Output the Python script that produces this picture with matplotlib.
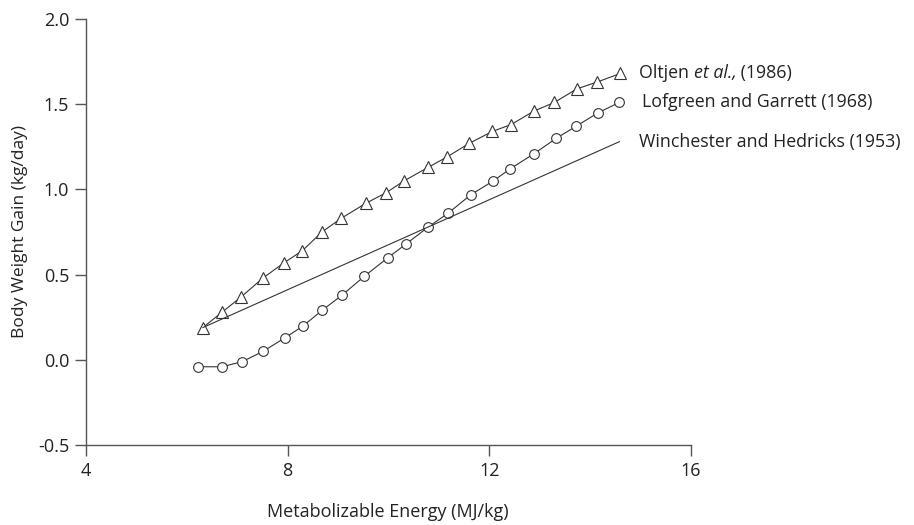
import numpy as np
import matplotlib
matplotlib.use("Agg")
import matplotlib.pyplot as plt
from matplotlib.transforms import offset_copy

# Oltjen et al. (1986) - triangles
oltjen_x = [6.32, 6.70, 7.08, 7.51, 7.93, 8.29, 8.68, 9.06, 9.56, 9.95, 10.31,
            10.79, 11.16, 11.60, 12.06, 12.43, 12.89, 13.29, 13.74, 14.14, 14.60]
oltjen_y = [0.19, 0.28, 0.37, 0.48, 0.57, 0.64, 0.75, 0.83, 0.92, 0.98, 1.05,
            1.13, 1.19, 1.27, 1.34, 1.38, 1.46, 1.51, 1.59, 1.63, 1.68]

# Lofgreen and Garrett (1968) - circles
lofgreen_x = [6.22, 6.70, 7.10, 7.51, 7.95, 8.31, 8.68, 9.08, 9.52, 9.99, 10.35,
              10.79, 11.18, 11.64, 12.08, 12.41, 12.89, 13.33, 13.72, 14.16, 14.58]
lofgreen_y = [-0.04, -0.04, -0.01, 0.05, 0.13, 0.20, 0.29, 0.38, 0.49, 0.60, 0.68,
              0.78, 0.86, 0.97, 1.05, 1.12, 1.21, 1.30, 1.37, 1.45, 1.51]

# Winchester and Hedricks (1953) - straight line
winchester_x = [6.32, 14.58]
winchester_y = [0.19, 1.28]

x_ticks = [4, 8, 12, 16]
y_ticks = [-0.5, 0.0, 0.5, 1.0, 1.5, 2.0]

plt.rcParams['font.family'] = ['Open Sans', 'DejaVu Sans']
line_color = '#333333'
axis_color = '#555555'
text_color = '#222222'

fig = plt.figure(figsize=(9.14, 5.25), dpi=100)
ax = fig.add_axes([0.094, 0.152, 0.662, 0.812])

ax.plot(oltjen_x, oltjen_y, color=line_color, lw=0.8, marker='^', markersize=9,
        markerfacecolor='white', markeredgecolor=line_color, markeredgewidth=0.8)
ax.plot(lofgreen_x, lofgreen_y, color=line_color, lw=0.8, marker='o', markersize=7,
        markerfacecolor='white', markeredgecolor=line_color, markeredgewidth=0.8)
ax.plot(winchester_x, winchester_y, color=line_color, lw=0.8)

ax.set_xlim(4, 16)
ax.set_ylim(-0.5, 2.0)
ax.set_xticks(x_ticks)
ax.set_xticklabels([str(t) for t in x_ticks])
ax.set_yticks(y_ticks)
ax.set_yticklabels([f"{t:.1f}" for t in y_ticks])

for s in ['top', 'right']:
    ax.spines[s].set_visible(False)
for s in ['left', 'bottom']:
    ax.spines[s].set_color(axis_color)
    ax.spines[s].set_linewidth(1.0)
ax.tick_params(axis='both', colors=axis_color, labelcolor=text_color,
               direction='out', length=8, width=1.0, labelsize=13, pad=4)

# series labels at right of lines
fs = 12.8
lx = 14.97
t1 = ax.text(lx, oltjen_y[-1], "Oltjen ", fontsize=fs, va='center', ha='left',
             color=text_color)
fig.canvas.draw()
r = fig.canvas.get_renderer()
w1 = t1.get_window_extent(r).width
t2 = ax.text(lx, oltjen_y[-1], "et al.,", fontsize=fs, va='center', ha='left',
             style='italic', color=text_color,
             transform=offset_copy(ax.transData, fig=fig, x=w1, y=0, units='dots'))
w2 = t2.get_window_extent(r).width
ax.text(lx, oltjen_y[-1], " (1986)", fontsize=fs, va='center', ha='left',
        color=text_color,
        transform=offset_copy(ax.transData, fig=fig, x=w1 + w2, y=0, units='dots'))
ax.text(lx + 0.06, lofgreen_y[-1], "Lofgreen and Garrett (1968)", fontsize=fs,
        va='center', ha='left', color=text_color)
ax.text(lx, winchester_y[-1], "Winchester and Hedricks (1953)", fontsize=fs,
        va='center', ha='left', color=text_color)

fig.text(388 / 914, 1 - 512 / 525, "Metabolizable Energy (MJ/kg)", fontsize=13,
         ha='center', va='center', color=text_color)
fig.text(20 / 914, 1 - 232 / 525, "Body Weight Gain (kg/day)", fontsize=12.5,
         ha='center', va='center', rotation=90, color=text_color)

for t in ax.lines:
    t.set_clip_on(False)

fig.savefig("out.png", dpi=100, facecolor='white')
